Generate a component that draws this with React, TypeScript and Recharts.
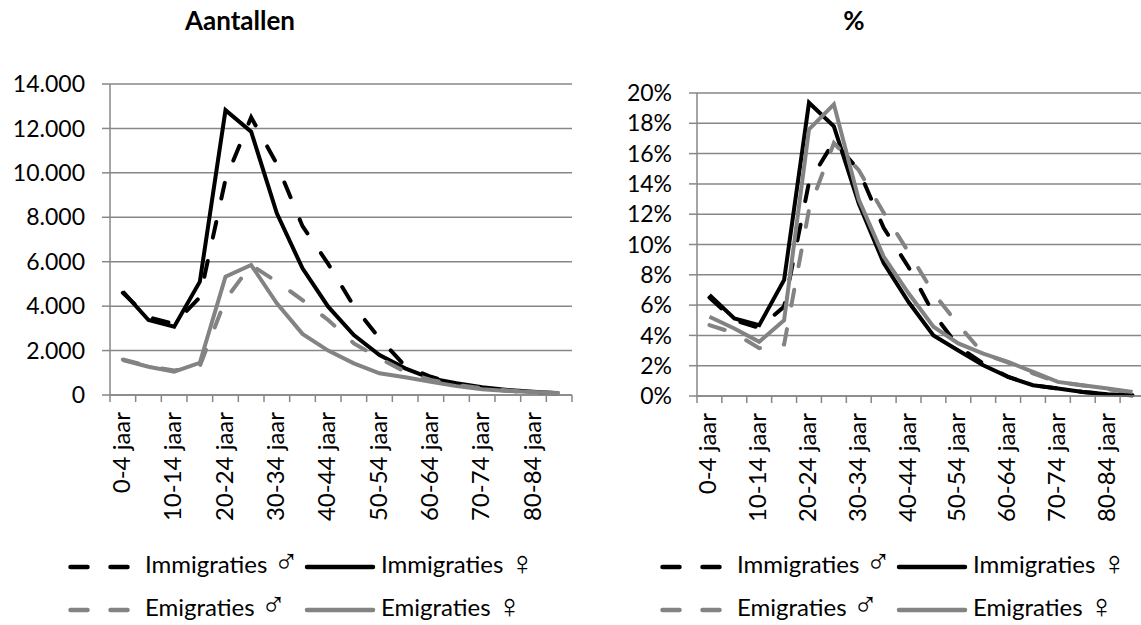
import { LineChart, Line, XAxis, YAxis, CartesianGrid } from 'recharts'

const categories = [
  '0-4 jaar', '5-9 jaar', '10-14 jaar', '15-19 jaar', '20-24 jaar', '25-29 jaar',
  '30-34 jaar', '35-39 jaar', '40-44 jaar', '45-49 jaar', '50-54 jaar', '55-59 jaar',
  '60-64 jaar', '65-69 jaar', '70-74 jaar', '75-79 jaar', '80-84 jaar', '85+ jaar',
]

// Aantallen
const immigratiesMan = [4600, 3500, 3200, 4400, 9700, 12500, 10400, 7600, 5900, 4000, 2550, 1300, 820, 500, 300, 200, 120, 60]
const immigratiesVrouw = [4650, 3375, 3075, 5100, 12825, 11850, 8175, 5700, 3975, 2700, 1800, 1200, 750, 525, 345, 225, 150, 75]
const emigratiesMan = [1600, 1300, 1100, 1300, 4300, 5850, 5100, 4275, 3375, 2325, 1650, 1050, 675, 450, 300, 200, 130, 75]
const emigratiesVrouw = [1575, 1275, 1050, 1450, 5325, 5850, 4125, 2750, 2000, 1425, 975, 795, 600, 400, 255, 180, 130, 90]

// %
const immigratiesManPct = [6.5, 5.0, 4.5, 5.9, 14.1, 16.8, 14.9, 11.1, 8.5, 5.45, 3.25, 2.15, 1.26, 0.71, 0.5, 0.26, 0.15, 0.05]
const immigratiesVrouwPct = [6.67, 5.12, 4.68, 7.66, 19.36, 17.8, 12.7, 8.77, 6.2, 4.0, 3.0, 2.03, 1.26, 0.71, 0.49, 0.26, 0.11, 0.05]
const emigratiesManPct = [4.68, 4.15, 3.16, 3.4, 12.3, 16.7, 14.9, 12.1, 9.5, 6.8, 4.7, 2.8, 2.2, 1.5, 0.9, 0.7, 0.45, 0.25]
const emigratiesVrouwPct = [5.23, 4.46, 3.58, 5.0, 17.6, 19.25, 12.96, 9.2, 6.78, 4.57, 3.47, 2.8, 2.25, 1.59, 0.93, 0.71, 0.49, 0.26]

const countTicks = [0, 2000, 4000, 6000, 8000, 10000, 12000, 14000]
const pctTicks = [0, 2, 4, 6, 8, 10, 12, 14, 16, 18, 20]

const GRID = '#878787'
const GRAY = '#838383'
const FONT = 'Lato, "Open Sans", sans-serif'
const DASH = '16 24'

// boundaries (integers) get a tick mark, half positions carry the labels
const xTicks = Array.from({ length: categories.length * 2 + 1 }, (_, i) => i / 2)

const countData = categories.map((name, i) => ({
  pos: i + 0.5,
  name,
  immM: immigratiesMan[i],
  immV: immigratiesVrouw[i],
  emiM: emigratiesMan[i],
  emiV: emigratiesVrouw[i],
}))

const pctData = categories.map((name, i) => ({
  pos: i + 0.5,
  name,
  immM: immigratiesManPct[i],
  immV: immigratiesVrouwPct[i],
  emiM: emigratiesManPct[i],
  emiV: emigratiesVrouwPct[i],
}))

function XTick(props: any) {
  const { x, y, payload } = props
  const v = Number(payload.value)
  if (Number.isInteger(v)) {
    return <line x1={x} y1={y} x2={x} y2={y + 7} stroke={GRID} strokeWidth={1.5} />
  }
  const i = Math.floor(v)
  if (i % 2 !== 0) return <g />
  return (
    <text
      transform={`translate(${x + 7},${y + 17}) rotate(-90)`}
      textAnchor="end"
      fontSize={24}
      fontFamily={FONT}
      fill="#000"
    >
      {categories[i]}
    </text>
  )
}

const thousands = (v: number) => String(v).replace(/\B(?=(\d{3})+(?!\d))/g, '.')

function Panel({ data, left, width, top, yWidth, xHeight, domain, ticks, fmt }: any) {
  return (
    <div style={{ position: 'absolute', left, top: 0 }}>
      <LineChart width={width} height={540} data={data} margin={{ top, right: 5, bottom: 0, left: 0 }}>
        <CartesianGrid vertical={false} stroke={GRID} strokeWidth={1.5} />
        <XAxis
          dataKey="pos"
          type="number"
          domain={[0, categories.length]}
          ticks={xTicks}
          interval={0}
          height={xHeight}
          tickSize={0}
          tickMargin={0}
          tickLine={false}
          axisLine={{ stroke: GRID, strokeWidth: 1.5 }}
          tick={<XTick />}
        />
        <YAxis
          width={yWidth}
          domain={domain}
          ticks={ticks}
          interval={0}
          tickFormatter={fmt}
          tickSize={8}
          tickMargin={17}
          tick={{ fontSize: 23, fill: '#000', fontFamily: FONT }}
          tickLine={{ stroke: GRID, strokeWidth: 1.5 }}
          axisLine={{ stroke: GRID, strokeWidth: 1.5 }}
        />
        <Line dataKey="immM" stroke="#000" strokeWidth={4} strokeDasharray={DASH} strokeLinecap="round" dot={false} isAnimationActive={false} />
        <Line dataKey="immV" stroke="#000" strokeWidth={4} dot={false} isAnimationActive={false} />
        <Line dataKey="emiM" stroke={GRAY} strokeWidth={4} strokeDasharray={DASH} strokeLinecap="round" dot={false} isAnimationActive={false} />
        <Line dataKey="emiV" stroke={GRAY} strokeWidth={4} dot={false} isAnimationActive={false} />
      </LineChart>
    </div>
  )
}

const legendItems = [
  { label: 'Immigraties', sign: '♂', color: '#000', dashed: true, row: 0, col: 0 },
  { label: 'Immigraties', sign: '♀', color: '#000', dashed: false, row: 0, col: 1 },
  { label: 'Emigraties', sign: '♂', color: GRAY, dashed: true, row: 1, col: 0 },
  { label: 'Emigraties', sign: '♀', color: GRAY, dashed: false, row: 1, col: 1 },
]

function Legend({ x0 }: { x0: number }) {
  return (
    <g>
      {legendItems.map(it => {
        const y = 567 + it.row * 43
        const textX = it.col === 0 ? x0 + 77 : x0 + 313
        return (
          <g key={it.label + it.sign}>
            {it.dashed ? (
              <line x1={x0 + 2.5} x2={x0 + 59.5} y1={y} y2={y} stroke={it.color} strokeWidth={4.5}
                strokeDasharray="17 23" strokeLinecap="round" />
            ) : (
              <line x1={x0 + 239} x2={x0 + 305} y1={y} y2={y} stroke={it.color} strokeWidth={4.5} strokeLinecap="round" />
            )}
            <text x={textX} y={y + 6} fontSize={24} fontFamily={FONT} fill="#000">
              {it.label}{' '}
              <tspan fontFamily='"DejaVu Sans"' fontWeight={200} fontSize={34} dy={it.sign === '♀' ? 2 : 0}>{it.sign}</tspan>
            </text>
          </g>
        )
      })}
    </g>
  )
}

export default function App() {
  return (
    <div style={{ position: 'absolute', left: 0, top: 0, width: 1141, height: 625, overflow: 'hidden', background: '#fff' }}>
      <Panel data={countData} left={0} width={577} top={84} yWidth={110} xHeight={145}
        domain={[0, 14000]} ticks={countTicks} fmt={thousands} />
      <Panel data={pctData} left={585} width={565} top={93} yWidth={112} xHeight={144}
        domain={[0, 20]} ticks={pctTicks} fmt={(v: number) => `${v}%`} />
      <svg width={1141} height={625} style={{ position: 'absolute', left: 0, top: 0, pointerEvents: 'none' }}>
        <text x={240} y={30} textAnchor="middle" fontSize={26} fontWeight="bold" fontFamily={FONT}>Aantallen</text>
        <text x={854} y={30} textAnchor="middle" fontSize={26} fontWeight="bold" fontFamily={FONT}>%</text>
        <Legend x0={68} />
        <Legend x0={660} />
      </svg>
    </div>
  )
}
